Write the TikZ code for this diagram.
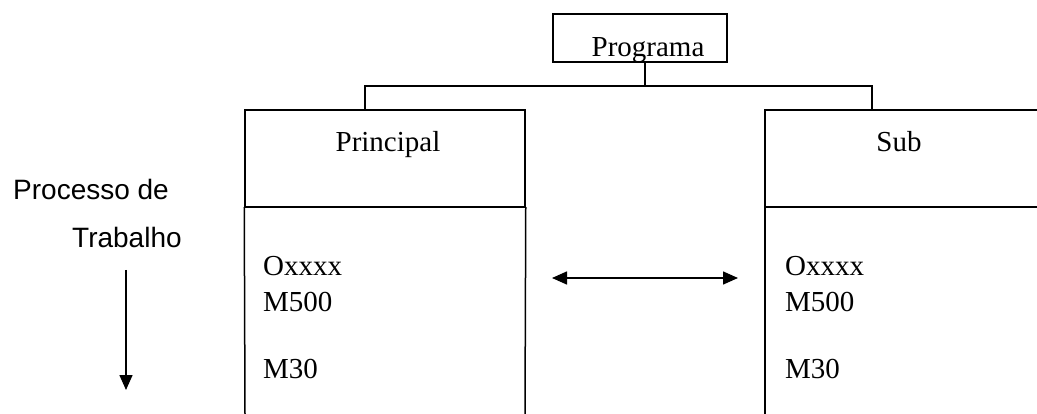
\documentclass[tikz,border=0pt]{standalone}
\usepackage{fontspec}
\setmainfont{Liberation Serif}
\newfontfamily\arialfont{Liberation Sans}
\usetikzlibrary{arrows.meta}
\tikzset{
  ln/.style={line width=1.5pt, line cap=rect},
  boxnode/.style={draw, line width=1.5pt, inner sep=0pt},
  serif/.style={inner sep=0pt, font=\fontsize{29}{33}\selectfont},
  sans/.style={inner sep=0pt, font=\arialfont\fontsize{28}{32}\selectfont},
  arr/.style={line width=1.5pt, -{Triangle[length=15pt,width=13pt]}},
  darr/.style={line width=1.5pt, {Triangle[length=15pt,width=13pt]}-{Triangle[length=15pt,width=13pt]}}
}
\begin{document}
\begin{tikzpicture}[x=1pt,y=-1pt]
\useasboundingbox[fill=white] (0,0) rectangle (1037,414);
% Programa box
\node[boxnode, minimum width=174pt, minimum height=48pt] (prog) at (640,38) {};
\node[serif, anchor=base] (progtext) at (648,57) {Programa};
% junction coordinates
\coordinate (j) at (645,86);
\coordinate (jl) at (365,86);
\coordinate (jr) at (872,86);
% Principal head
\node[boxnode, minimum width=280pt, minimum height=97pt] (phead) at (385,158.5) {};
\node[serif, anchor=base] (ptext) at (388,152) {Principal};
\coordinate (pbl) at (245,414);
\coordinate (pbr) at (525,414);
\draw[ln] (phead.south west) -- (pbl);
\draw[ln] (phead.south east) -- (pbr);
% Sub head (cut off at right)
\coordinate (stl) at (765,110);
\coordinate (str) at (1037,110);
\coordinate (sml) at (765,207);
\coordinate (smr) at (1037,207);
\coordinate (sbl) at (765,414);
\draw[ln] (str) -- (stl) -- (sbl);
\draw[ln] (sml) -- (smr);
\node[serif, anchor=base] (stext) at (899,152) {Sub};
% connectors
\draw[ln] (prog.south -| j) -- (j);
\draw[ln] (jl |- phead.north) -- (jl) -- (jr) -- (jr |- stl);
% body texts
\node[serif, anchor=base west] (po) at (263,276) {Oxxxx};
\node[serif, anchor=base west] (pm5) at (263,312) {M500};
\node[serif, anchor=base west] (pm3) at (263,378) {M30};
\node[serif, anchor=base west] (so) at (785,276) {Oxxxx};
\node[serif, anchor=base west] (sm5) at (785,312) {M500};
\node[serif, anchor=base west] (sm3) at (785,378) {M30};
% double arrow
\coordinate (da) at (552,278);
\coordinate (db) at (738,278);
\draw[darr] (da) -- (db);
% left label and arrow
\node[sans, anchor=base west] (proc) at (13,200) {Processo de};
\node[sans, anchor=base west] (trab) at (72,248) {Trabalho};
\coordinate (wa) at (126,270);
\coordinate (wb) at (126,390);
\draw[arr] (wa) -- (wb);
\end{tikzpicture}
\end{document}
